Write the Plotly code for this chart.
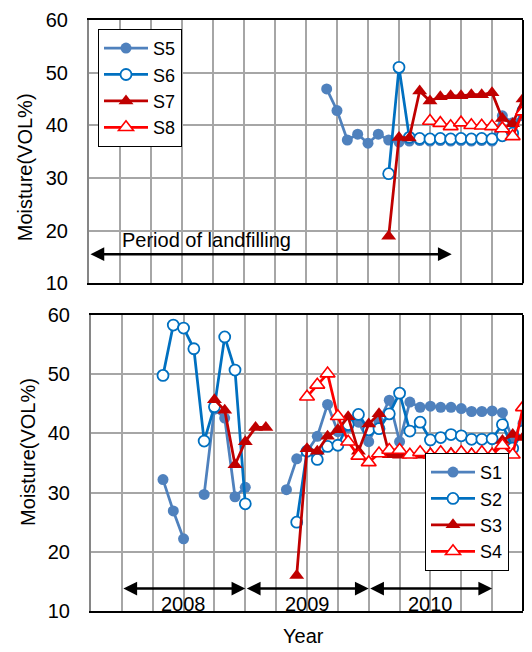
import plotly.graph_objects as go

# ---------------- data ----------------
# month labels (YYYY-MM)
months_top_s5 = ["2009-09", "2009-10", "2009-11", "2009-12", "2010-01", "2010-02", "2010-03",
                 "2010-04", "2010-05", "2010-06", "2010-07", "2010-08", "2010-09", "2010-10",
                 "2010-11", "2010-12", "2011-01", "2011-02", "2011-03", "2011-04"]
s5 = [46.9, 42.8, 37.2, 38.3, 36.6, 38.3, 37.2, 36.8, 37.0, 37.1, 37.0, 37.1, 37.0, 37.1,
      37.0, 37.1, 37.0, 41.8, 40.5, 41.8]

months_top_s67 = ["2010-03", "2010-04", "2010-05", "2010-06", "2010-07", "2010-08", "2010-09",
                  "2010-10", "2010-11", "2010-12", "2011-01", "2011-02", "2011-03", "2011-04"]
s6 = [30.8, 51.0, 37.7, 37.5, 37.4, 37.5, 37.4, 37.5, 37.4, 37.5, 37.4, 38.0, 38.5, 42.8]
s7 = [18.9, 37.7, 37.6, 46.5, 44.6, 45.4, 45.6, 45.6, 45.8, 45.8, 46.2, 41.3, 40.3, 45.0]

months_top_s8 = ["2010-07", "2010-08", "2010-09", "2010-10", "2010-11", "2010-12", "2011-01",
                 "2011-02", "2011-03", "2011-04"]
s8 = [40.8, 40.4, 39.8, 40.5, 40.0, 39.9, 39.8, 39.4, 37.9, 42.6]

months_bottom = ["2008-05", "2008-06", "2008-07", "2008-08", "2008-09", "2008-10", "2008-11",
                 "2008-12", "2009-01", "2009-02", "2009-03", "2009-04", "2009-05", "2009-06",
                 "2009-07", "2009-08", "2009-09", "2009-10", "2009-11", "2009-12", "2010-01",
                 "2010-02", "2010-03", "2010-04", "2010-05", "2010-06", "2010-07", "2010-08",
                 "2010-09", "2010-10", "2010-11", "2010-12", "2011-01", "2011-02", "2011-03",
                 "2011-04"]
s1 = [32.2, 26.9, 22.2, None, 29.7, 44.1, 42.6, 29.3, 30.9, None, None, None, 30.5, 35.7,
      36.9, 39.5, 44.9, 40.3, 41.0, 41.9, 38.6, 42.0, 45.6, 38.6, 45.3, 44.4, 44.6, 44.4,
      44.4, 44.2, 43.7, 43.7, 43.8, 43.5, 39.0, 41.7]
s2 = [49.8, 58.3, 57.8, 54.3, 38.7, 44.5, 56.3, 50.7, 28.1, None, None, None, None, 25.0,
      37.0, 35.6, 37.8, 38.0, 41.5, 43.2, 40.6, 40.8, 43.3, 46.8, 40.4, 41.9, 38.9, 39.3,
      39.8, 39.6, 39.0, 39.0, 39.1, 41.5, 37.5, 40.4]
s3 = [None, None, None, None, None, 45.7, 43.9, 34.7, 38.6, 41.0, 41.0, None, None, 16.0,
      37.4, 37.0, 39.5, 40.6, 42.8, 37.0, 41.6, 43.3, 36.4, 36.3, 36.5, 36.3, 36.6, 36.4,
      36.7, 36.4, 36.6, 36.3, 36.6, 38.8, 39.8, 39.3]
s4 = [None, None, None, None, None, None, None, None, None, None, None, None, None, None,
      46.2, 48.2, 50.1, 42.9, 38.6, 36.2, 35.1, 36.6, 37.2, 37.2, 36.4, 36.8, 36.4, 36.8,
      36.4, 36.8, 36.4, 36.8, 36.4, 38.0, 36.4, 44.4]

year_labels = ["2008", "2009", "2010"]
year_spans = [("2008-01", "2009-01"), ("2009-01", "2010-01"), ("2010-01", "2011-01")]
landfill_span = ("2007-10", "2010-09")
axis_start, axis_end = "2007-10", "2011-04"


def midx(s):
    """months since Oct 2007 (axis origin)"""
    y, m = s.split("-")
    return (int(y) - 2007) * 12 + int(m) - 10


FONT = "Liberation Sans, Arial, sans-serif"
C_S1 = "#4F81BD"
C_S2 = "#0070C0"
C_S3 = "#C00000"
C_S4 = "#FF0000"
LW = 2.75

fig = go.Figure()


def add(name, months, vals, style, xa, ya, leg):
    x = [midx(m) for m in months]
    if style == "filled_circle":
        marker = dict(symbol="circle", size=11, color=C_S1, line=dict(width=0))
        line = dict(color=C_S1, width=LW)
    elif style == "open_circle":
        marker = dict(symbol="circle", size=11, color="white", line=dict(color=C_S2, width=1.8))
        line = dict(color=C_S2, width=LW)
    elif style == "filled_tri":
        marker = dict(symbol="triangle-up", size=13, color=C_S3, line=dict(width=0))
        line = dict(color=C_S3, width=LW)
    else:
        marker = dict(symbol="triangle-up", size=13, color="white", line=dict(color=C_S4, width=1.6))
        line = dict(color=C_S4, width=LW)
    fig.add_trace(go.Scatter(x=x, y=vals, name=name, mode="lines+markers", marker=marker,
                             line=line, xaxis=xa, yaxis=ya, legend=leg, connectgaps=False))


add("S5", months_top_s5, s5, "filled_circle", "x", "y", "legend")
add("S6", months_top_s67, s6, "open_circle", "x", "y", "legend")
add("S7", months_top_s67, s7, "filled_tri", "x", "y", "legend")
add("S8", months_top_s8, s8, "open_tri", "x", "y", "legend")

add("S1", months_bottom, s1, "filled_circle", "x2", "y2", "legend2")
add("S2", months_bottom, s2, "open_circle", "x2", "y2", "legend2")
add("S3", months_bottom, s3, "filled_tri", "x2", "y2", "legend2")
add("S4", months_bottom, s4, "open_tri", "x2", "y2", "legend2")

W, H = 532, 652
ML, MR, MT, MB = 89, 9, 13, 41
PW = W - ML - MR
PH = H - MT - MB


def py(pix):
    return (H - MB - pix) / PH


def px(pix):
    return (pix - ML) / PW


xcommon = dict(range=[midx(axis_start), midx(axis_end)], dtick=3, tick0=0, showticklabels=False,
               showgrid=True, gridcolor="#A6A6A6", gridwidth=1.5, showline=True, mirror=True,
               linecolor="black", linewidth=2, ticks="", zeroline=False)
ycommon = dict(range=[10, 60], dtick=10, showgrid=True, gridcolor="#A6A6A6", gridwidth=1.5,
               showline=True, linecolor="#868686", linewidth=2, ticks="", zeroline=False,
               tickfont=dict(size=20, color="black", family=FONT), ticklabelstandoff=15)

fig.update_layout(
    width=W, height=H,
    margin=dict(l=ML, r=MR, t=MT, b=MB),
    paper_bgcolor="white", plot_bgcolor="white",
    font=dict(family=FONT, size=20, color="black"),
    xaxis=dict(domain=[0, 1], anchor="y", **xcommon),
    yaxis=dict(domain=[py(279.3), 1], anchor="x", **ycommon),
    xaxis2=dict(domain=[px(91), 1], anchor="y2", **xcommon),
    yaxis2=dict(domain=[0, py(311.5)], anchor="x2", **ycommon),
    legend=dict(x=px(98), y=py(22), xanchor="left", yanchor="top", bgcolor="white",
                bordercolor="black", borderwidth=1, font=dict(size=18, family=FONT),
                itemwidth=44, tracegroupgap=0),
    legend2=dict(x=px(425), y=py(451), xanchor="left", yanchor="top", bgcolor="white",
                 bordercolor="black", borderwidth=1, font=dict(size=18, family=FONT),
                 itemwidth=44, tracegroupgap=0),
    showlegend=True,
)

# right borders of plot frames
for xa, ya in (("x", "y"), ("x2", "y2")):
    fig.add_shape(type="line", xref=f"{xa} domain", yref=f"{ya} domain", x0=1, x1=1, y0=0, y1=1,
                  line=dict(color="black", width=2), layer="above")

ann = []


def darrow(xa, ya, x0, x1, y):
    ann.append(dict(xref=xa, yref=ya, axref=xa, ayref=ya, x=x1, y=y, ax=x0, ay=y, text="",
                    showarrow=True, arrowside="end+start", arrowhead=2, startarrowhead=2,
                    arrowsize=1.1, startarrowsize=1.1, arrowwidth=2.5, arrowcolor="black",
                    standoff=0, startstandoff=0))


darrow("x", "y", midx(landfill_span[0]), midx(landfill_span[1]) + 0.1, 15.5)
ann.append(dict(xref="x", yref="y", x=3.0, y=18.2, xanchor="left", yanchor="middle",
                text="Period of landfilling", showarrow=False, font=dict(size=20)))

for lab, (a, b) in zip(year_labels, year_spans):
    darrow("x2", "y2", midx(a), midx(b), 13.8)
    ann.append(dict(xref="x2", yref="y2", x=(midx(a) + midx(b)) / 2, y=11.1, text=lab,
                    showarrow=False, xanchor="center", yanchor="middle", font=dict(size=20)))

ann.append(dict(xref="paper", yref="paper", x=px(25), y=py(162), text="Moisture(VOL%)",
                textangle=-90, showarrow=False, xanchor="center", yanchor="middle",
                font=dict(size=20)))
ann.append(dict(xref="paper", yref="paper", x=px(28), y=py(450), text="Moisture(VOL%)",
                textangle=-90, showarrow=False, xanchor="center", yanchor="middle",
                font=dict(size=20)))
ann.append(dict(xref="paper", yref="paper", x=px(303), y=py(636), text="Year",
                showarrow=False, xanchor="center", yanchor="middle", font=dict(size=20)))

fig.update_layout(annotations=ann)

fig.write_html("out.html", config={"displayModeBar": False},
               post_script="document.body.style.margin='0';document.body.style.overflow='hidden';")
